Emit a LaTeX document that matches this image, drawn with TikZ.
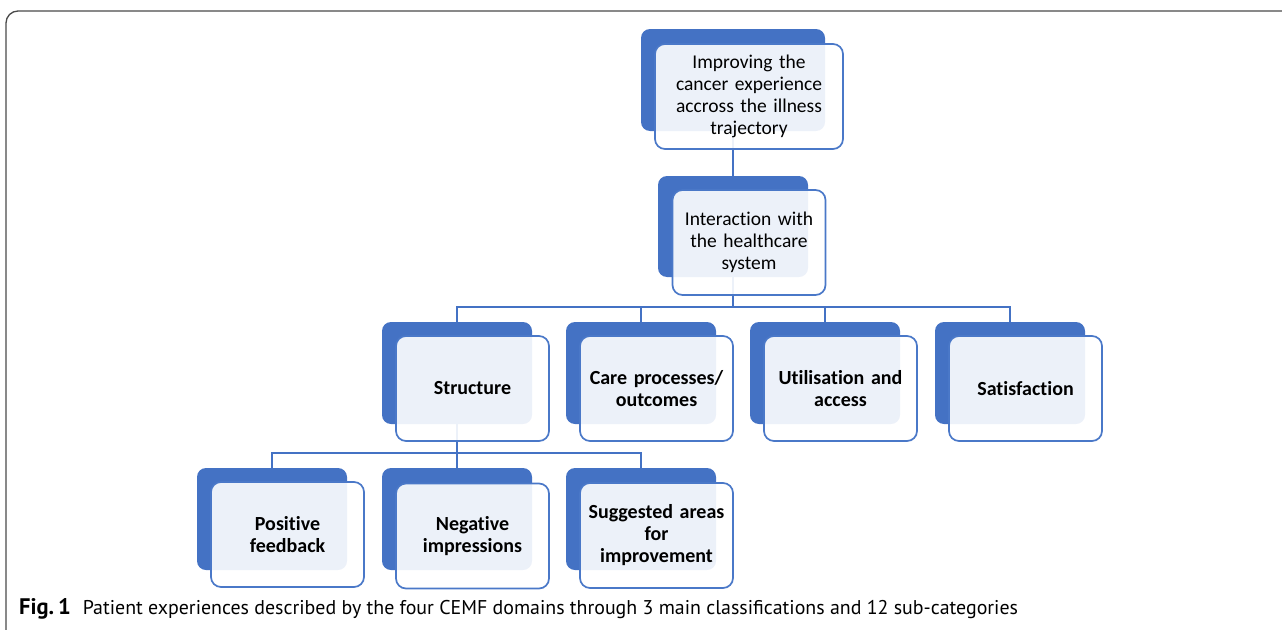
\documentclass[tikz,border=0pt]{standalone}
\usepackage{fontspec}
\setmainfont{Carlito}[RawFeature={-liga}]
\newfontfamily\capfont{PT Sans}
\definecolor{cblue}{HTML}{4472C4}
\definecolor{fblue}{HTML}{4A78C8}
\definecolor{framegray}{HTML}{4A4A4A}
\begin{document}
\begin{tikzpicture}[x=1pt,y=-1pt,
  backbox/.style={fill=cblue, draw=none, rounded corners=9pt, minimum width=150pt, minimum height=102pt, inner sep=0pt},
  frontbox/.style={draw=fblue, line width=1.7pt, fill=white, fill opacity=0.9, text opacity=1, rounded corners=10pt, minimum width=153pt, minimum height=105pt, inner sep=0pt, align=center, font=\fontsize{20}{22}\selectfont\bfseries, text width=150pt},
  reg/.style={font=\fontsize{19.5}{22}\selectfont},
  conn/.style={draw=cblue, line width=2pt}]
\useasboundingbox (0,0) rectangle (1282,629);
\clip (0,0) rectangle (1282,629);
\draw[framegray, line width=1.3pt, rounded corners=12pt] (6,11) rectangle (1320,660);

% back boxes
\node[backbox, minimum width=184pt] (topb) at (733,80) {};
\node[backbox, minimum height=101pt] (intb) at (733,226.5) {};
\node[backbox] (strb) at (457,373) {};
\node[backbox] (careb) at (641,373) {};
\node[backbox] (utilb) at (825,373) {};
\node[backbox] (satb) at (1010,373) {};
\node[backbox] (posb) at (272,519) {};
\node[backbox] (negb) at (457,519) {};
\node[backbox] (sugb) at (641,519) {};

% connectors
\coordinate (bus1) at (733,307);
\coordinate (bus2) at (457,453);
\draw[conn] (topb.south) -- (intb.north);
\draw[conn] (intb.south) -- (bus1);
\draw[conn] (strb.north) |- (bus1);
\draw[conn] (careb.north) |- (bus1);
\draw[conn] (utilb.north) |- (bus1);
\draw[conn] (satb.north) |- (bus1);
\draw[conn] (strb.south) -- (bus2);
\draw[conn] (posb.north) |- (bus2);
\draw[conn] (negb.north) |- (bus2);
\draw[conn] (sugb.north) |- (bus2);

% front boxes
\node[frontbox, reg, minimum width=188pt, text width=180pt] (topf) at (749,96.5) {Improving the\\cancer experience\\accross the illness\\trajectory};
\node[frontbox, reg] (intf) at (749,242.5) {Interaction with\\the healthcare\\system};
\node[frontbox] (strf) at (472.5,388.5) {Structure};
\node[frontbox] (caref) at (656.5,388.5) {Care processes/\\outcomes};
\node[frontbox] (utilf) at (840.5,388.5) {Utilisation and\\access};
\node[frontbox] (satf) at (1025.5,388.5) {Satisfaction};
\node[frontbox] (posf) at (287.5,534.5) {Positive\\feedback};
\node[frontbox] (negf) at (472.5,536) {Negative\\impressions};
\node[frontbox] (sugf) at (656.5,535.5) {Suggested areas\\for\\improvement};

% caption
\node[anchor=west, inner sep=0pt, font=\capfont\fontsize{19.9}{22}\selectfont] (cap) at (19,609) {{\fontsize{22.5}{22}\selectfont\textbf{Fig.\,1}}\hspace{12pt}Patient experiences described by the four CEMF domains through 3 main classifications and 12 sub-categories};
\end{tikzpicture}
\end{document}
